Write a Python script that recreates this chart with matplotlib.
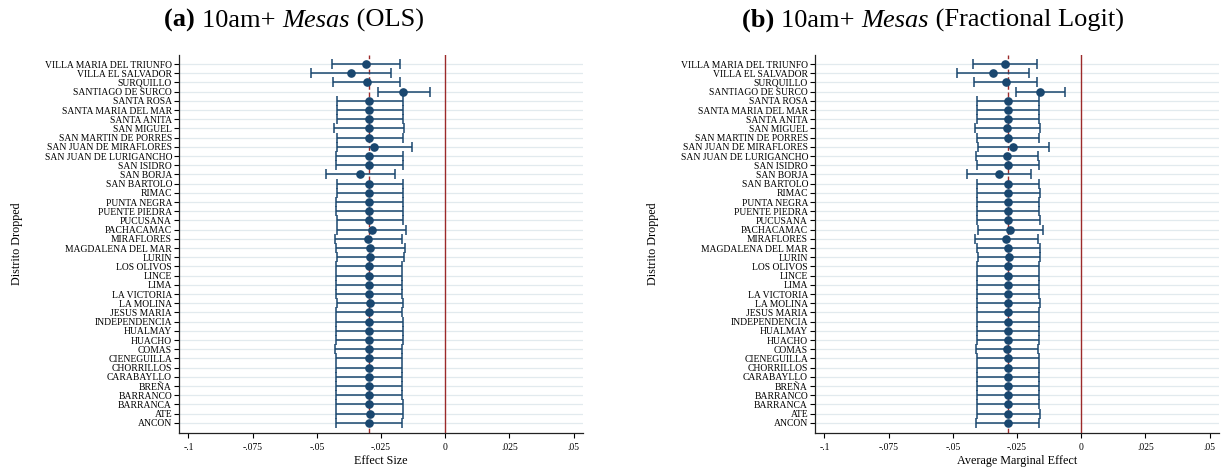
import numpy as np
import matplotlib
matplotlib.use("Agg")
import matplotlib.pyplot as plt

# districts, top to bottom as shown
distritos = ["VILLA MARIA DEL TRIUNFO", "VILLA EL SALVADOR", "SURQUILLO", "SANTIAGO DE SURCO",
             "SANTA ROSA", "SANTA MARIA DEL MAR", "SANTA ANITA", "SAN MIGUEL",
             "SAN MARTIN DE PORRES", "SAN JUAN DE MIRAFLORES", "SAN JUAN DE LURIGANCHO",
             "SAN ISIDRO", "SAN BORJA", "SAN BARTOLO", "RIMAC", "PUNTA NEGRA", "PUENTE PIEDRA",
             "PUCUSANA", "PACHACAMAC", "MIRAFLORES", "MAGDALENA DEL MAR", "LURIN", "LOS OLIVOS",
             "LINCE", "LIMA", "LA VICTORIA", "LA MOLINA", "JESUS MARIA", "INDEPENDENCIA",
             "HUALMAY", "HUACHO", "COMAS", "CIENEGUILLA", "CHORRILLOS", "CARABAYLLO", "BREÑA",
             "BARRANCO", "BARRANCA", "ATE", "ANCON"]

# (a) OLS
ols_est = [-0.0309, -0.0367, -0.0306, -0.0163, -0.0295, -0.0295, -0.0295, -0.0298,
           -0.0295, -0.0277, -0.0295, -0.0295, -0.0330, -0.0295, -0.0295, -0.0295, -0.0295,
           -0.0295, -0.0286, -0.0300, -0.0292, -0.0292, -0.0295, -0.0295, -0.0295, -0.0295,
           -0.0294, -0.0295, -0.0295, -0.0295, -0.0295, -0.0298, -0.0295, -0.0295, -0.0295,
           -0.0295, -0.0295, -0.0295, -0.0294, -0.0297]
ols_lo = [-0.0440, -0.0521, -0.0437, -0.0262, -0.0423, -0.0423, -0.0423, -0.0434,
          -0.0423, -0.0423, -0.0425, -0.0425, -0.0463, -0.0423, -0.0423, -0.0425, -0.0425,
          -0.0423, -0.0420, -0.0429, -0.0425, -0.0420, -0.0425, -0.0425, -0.0425, -0.0425,
          -0.0423, -0.0426, -0.0425, -0.0425, -0.0425, -0.0429, -0.0425, -0.0425, -0.0426,
          -0.0425, -0.0425, -0.0425, -0.0425, -0.0426]
ols_hi = [-0.0175, -0.0212, -0.0175, -0.0061, -0.0166, -0.0166, -0.0166, -0.0161,
          -0.0166, -0.0131, -0.0166, -0.0166, -0.0196, -0.0166, -0.0164, -0.0166, -0.0166,
          -0.0166, -0.0152, -0.0167, -0.0158, -0.0161, -0.0167, -0.0167, -0.0167, -0.0167,
          -0.0164, -0.0167, -0.0166, -0.0166, -0.0166, -0.0169, -0.0167, -0.0167, -0.0167,
          -0.0167, -0.0167, -0.0166, -0.0166, -0.0167]
ols_full = -0.0295

# (b) fractional logit, average marginal effects
flog_est = [-0.0297, -0.0343, -0.0294, -0.0159, -0.0285, -0.0285, -0.0285, -0.0288,
            -0.0285, -0.0267, -0.0288, -0.0285, -0.0320, -0.0285, -0.0284, -0.0285, -0.0285,
            -0.0285, -0.0276, -0.0293, -0.0284, -0.0282, -0.0287, -0.0285, -0.0285, -0.0285,
            -0.0284, -0.0287, -0.0287, -0.0285, -0.0285, -0.0288, -0.0287, -0.0285, -0.0287,
            -0.0285, -0.0285, -0.0285, -0.0285, -0.0287]
flog_lo = [-0.0423, -0.0484, -0.0416, -0.0255, -0.0405, -0.0405, -0.0405, -0.0414,
           -0.0405, -0.0402, -0.0410, -0.0405, -0.0445, -0.0405, -0.0404, -0.0405, -0.0405,
           -0.0404, -0.0401, -0.0414, -0.0407, -0.0402, -0.0407, -0.0405, -0.0405, -0.0405,
           -0.0405, -0.0407, -0.0407, -0.0405, -0.0405, -0.0410, -0.0407, -0.0405, -0.0407,
           -0.0405, -0.0405, -0.0405, -0.0405, -0.0408]
flog_hi = [-0.0173, -0.0202, -0.0173, -0.0064, -0.0164, -0.0164, -0.0164, -0.0159,
           -0.0164, -0.0127, -0.0167, -0.0164, -0.0194, -0.0164, -0.0162, -0.0164, -0.0164,
           -0.0162, -0.0150, -0.0167, -0.0159, -0.0159, -0.0165, -0.0164, -0.0164, -0.0164,
           -0.0162, -0.0165, -0.0165, -0.0164, -0.0164, -0.0167, -0.0165, -0.0164, -0.0165,
           -0.0164, -0.0164, -0.0164, -0.0162, -0.0165]
flog_full = -0.0285

xticks = [-0.1, -0.075, -0.05, -0.025, 0, 0.025, 0.05]
xticklabels = ["-.1", "-.075", "-.05", "-.025", "0", ".025", ".05"]

SERIF = ["Liberation Serif", "DejaVu Serif"]
NAVY = "#1a476f"
RED = "#9c2a2a"
GRID = "#e2eaee"


def panel(ax, est, lo, hi, full, xlabel):
    n = len(distritos)
    y = np.arange(n)[::-1]
    est, lo, hi = np.array(est), np.array(lo), np.array(hi)
    for yy in y:
        ax.axhline(yy, color=GRID, lw=0.9, zorder=0)
    ax.axvline(0, color=RED, lw=1.0, zorder=1)
    ax.axvline(full, color=RED, lw=1.0, ls=(0, (3.5, 2)), zorder=1)
    ax.errorbar(est, y, xerr=[est - lo, hi - est], fmt="o", color=NAVY, ms=5.2,
                elinewidth=1.1, capsize=3.4, capthick=1.1, zorder=3)
    ax.set_xlim(-0.1037, 0.0537)
    ax.set_ylim(-1.1, n - 0.02)
    ax.set_yticks(y)
    ax.set_yticklabels(distritos, family=SERIF, fontsize=6.9)
    ax.set_xticks(xticks)
    ax.set_xticklabels(xticklabels, family=SERIF, fontsize=6.9)
    ax.tick_params(axis="y", length=3.5, width=0.8, pad=1.5)
    ax.tick_params(axis="x", length=3.5, width=0.8, pad=4)
    for s in ["top", "right"]:
        ax.spines[s].set_visible(False)
    for s in ["left", "bottom"]:
        ax.spines[s].set_linewidth(0.9)
        ax.spines[s].set_color("#222222")
    ax.set_xlabel(xlabel, family=SERIF, fontsize=8.7, labelpad=2)


def rich_title(fig, xc_px, base_frac, parts):
    r = fig.canvas.get_renderer()
    W = fig.bbox.width
    texts = [fig.text(0, base_frac, s, va="baseline", ha="left", **kw) for s, kw in parts]
    widths = [t.get_window_extent(r).width for t in texts]
    x = xc_px - sum(widths) / 2
    for t, w in zip(texts, widths):
        t.set_x(x / W)
        x += w


fig = plt.figure(figsize=(12.24, 4.72), dpi=100)
axa = fig.add_axes([179 / 1224, 1 - 433 / 472, 404 / 1224, 378 / 472])
axb = fig.add_axes([815 / 1224, 1 - 433 / 472, 404 / 1224, 378 / 472])

panel(axa, ols_est, ols_lo, ols_hi, ols_full, "Effect Size")
panel(axb, flog_est, flog_lo, flog_hi, flog_full, "Average Marginal Effect")

fig.text(17 / 1224, 1 - 244 / 472, "Distrito Dropped", rotation=90, va="center", ha="center",
         family=SERIF, fontsize=8.7)
fig.text(653 / 1224, 1 - 244 / 472, "Distrito Dropped", rotation=90, va="center", ha="center",
         family=SERIF, fontsize=8.7)

fig.canvas.draw()
tsize = 19
rich_title(fig, 294, 1 - 27 / 472, [
    ("(a) ", dict(family=SERIF, weight="bold", fontsize=tsize)),
    ("10am+ ", dict(family=SERIF, fontsize=tsize)),
    ("Mesas", dict(family=SERIF, style="italic", fontsize=tsize)),
    (" (OLS)", dict(family=SERIF, fontsize=tsize)),
])
rich_title(fig, 933, 1 - 27 / 472, [
    ("(b) ", dict(family=SERIF, weight="bold", fontsize=tsize)),
    ("10am+ ", dict(family=SERIF, fontsize=tsize)),
    ("Mesas", dict(family=SERIF, style="italic", fontsize=tsize)),
    (" (Fractional Logit)", dict(family=SERIF, fontsize=tsize)),
])

fig.savefig("out.png", dpi=100)
